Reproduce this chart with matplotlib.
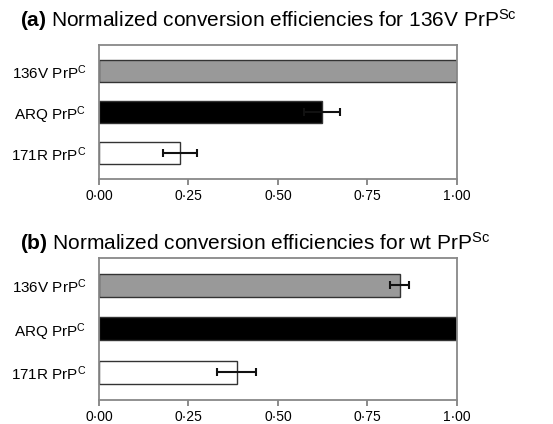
import matplotlib
matplotlib.use("Agg")
import matplotlib.pyplot as plt

plt.rcParams['font.family'] = 'Liberation Sans'
plt.rcParams['mathtext.fontset'] = 'custom'
plt.rcParams['mathtext.rm'] = 'Liberation Sans'
plt.rcParams['mathtext.bf'] = 'Liberation Sans:bold'
plt.rcParams['mathtext.it'] = 'Liberation Sans:italic'

# data
categories = ['136V PrP$^{\\mathrm{C}}$', 'ARQ PrP$^{\\mathrm{C}}$', '171R PrP$^{\\mathrm{C}}$']
colors = ['#999999', '#000000', '#ffffff']
vals_a = [1.00, 0.623, 0.227]
errs_a = [0.0, 0.05, 0.047]
vals_b = [0.84, 1.00, 0.385]
errs_b = [0.026, 0.0, 0.055]
ticks = [0.0, 0.25, 0.5, 0.75, 1.0]
tick_labels = ['0\u00b700', '0\u00b725', '0\u00b750', '0\u00b775', '1\u00b700']
titles = ['$\\mathbf{(a)}$ Normalized conversion efficiencies for 136V PrP$^{\\mathrm{Sc}}$',
          '$\\mathbf{(b)}$ Normalized conversion efficiencies for wt PrP$^{\\mathrm{Sc}}$']

fig = plt.figure(figsize=(5.53, 4.24), dpi=100)
ax_a = fig.add_axes([0.179, 0.578, 0.647, 0.316])
ax_b = fig.add_axes([0.179, 0.057, 0.647, 0.335])

def draw_panel(ax, vals, errs):
    pos = list(range(len(categories)))
    ax.barh(pos, vals, height=0.52, color=colors, edgecolor='#333333', linewidth=1.0)
    for p, v, e in zip(pos, vals, errs):
        if e > 0:
            ax.errorbar(v, p, xerr=e, fmt='none', ecolor='#111111',
                        elinewidth=1.5, capsize=3, capthick=1.5)
    ax.set_ylim(2.63, -0.63)
    ax.set_xlim(0, 1)
    ax.set_yticks(pos)
    ax.set_yticklabels(categories, fontsize=11)
    ax.tick_params(axis='y', length=0, pad=9)
    ax.set_xticks(ticks)
    ax.set_xticklabels(tick_labels, fontsize=10)
    ax.tick_params(axis='x', length=4, color='#777777', width=1.2, pad=3)
    for s in ax.spines.values():
        s.set_color('#888888')
        s.set_linewidth(1.3)

draw_panel(ax_a, vals_a, errs_a)
draw_panel(ax_b, vals_b, errs_b)

fig.text(0.036, 0.952, titles[0], fontsize=15, va='center')
fig.text(0.036, 0.426, titles[1], fontsize=15, va='center')

fig.savefig('out.png', dpi=100)
